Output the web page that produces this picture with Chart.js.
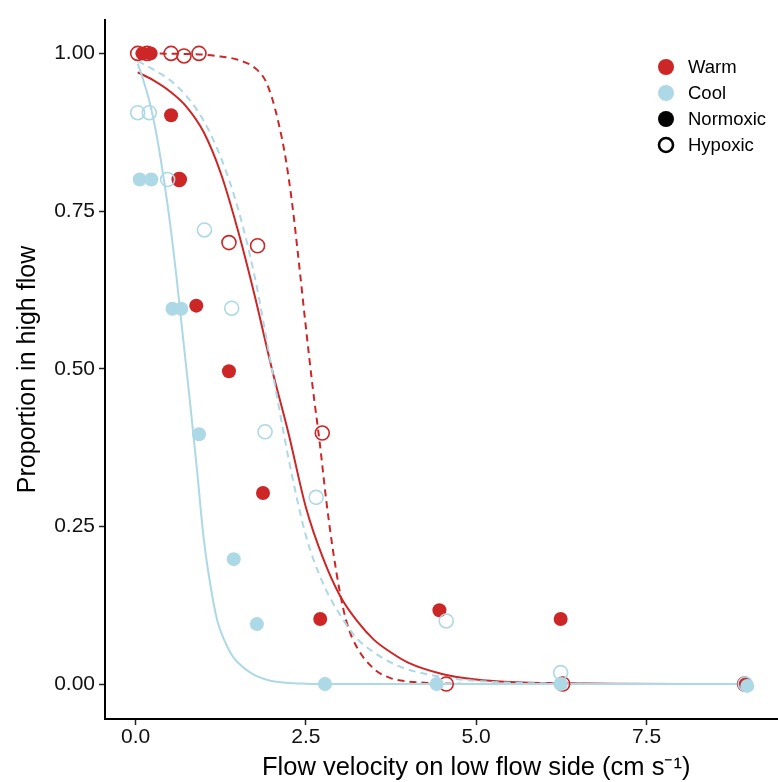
<!DOCTYPE html>
<html><head><meta charset="utf-8">
<script src="https://cdn.jsdelivr.net/npm/chart.js@4"></script>
<style>html,body{margin:0;padding:0;background:#fff;overflow:hidden}canvas{display:block}</style>
</head><body>
<canvas id="c" width="856" height="782"></canvas>
<script>
// ---- tick labels ----
const xTicks = [0, 2.5, 5, 7.5];
const xTickLabels = ['0.0', '2.5', '5.0', '7.5'];
const yTicks = [0, 0.25, 0.5, 0.75, 1];
const yTickLabels = ['0.00', '0.25', '0.50', '0.75', '1.00'];
const legendLabels = ['Warm', 'Cool', 'Normoxic', 'Hypoxic'];
const xTitle = 'Flow velocity on low flow side (cm s\u207B\u00B9)';
const yTitle = 'Proportion in high flow';

// ---- observed points ----
const warmNormoxicX = [0.10, 0.22, 0.52, 0.64, 0.89, 1.37, 1.87, 2.71, 4.46, 6.24, 8.94];
const warmNormoxicY = [1.0, 1.0, 0.902, 0.80, 0.60, 0.496, 0.303, 0.103, 0.117, 0.103, 0.0];
const warmHypoxicX = [0.03, 0.17, 0.52, 0.71, 0.93, 0.64, 1.37, 1.79, 2.74, 4.56, 6.27, 8.94];
const warmHypoxicY = [1.0, 1.0, 1.0, 0.996, 1.0, 0.80, 0.70, 0.695, 0.398, 0.0, 0.0, 0.0];
const coolNormoxicX = [0.06, 0.23, 0.54, 0.67, 0.93, 1.44, 1.78, 2.78, 4.42, 6.24, 8.98];
const coolNormoxicY = [0.80, 0.80, 0.595, 0.595, 0.396, 0.198, 0.095, 0.0, 0.0, 0.0, -0.003];
const coolHypoxicX = [0.03, 0.20, 0.47, 1.01, 1.41, 1.90, 2.65, 4.56, 6.24, 8.95];
const coolHypoxicY = [0.906, 0.906, 0.80, 0.72, 0.596, 0.40, 0.296, 0.10, 0.018, 0.0];

// ---- fitted curves ----
const coolNormoxicFitX = [0.03, 0.1, 0.2, 0.3, 0.4, 0.5, 0.6, 0.7, 0.8, 0.9, 1.0, 1.1, 1.2, 1.3, 1.4, 1.5, 1.7, 1.95, 2.2, 2.5, 3.0, 4.0, 5.0, 6.0, 7.0, 8.0, 9.0];
const coolNormoxicFitY = [0.984, 0.962, 0.925, 0.875, 0.81, 0.735, 0.645, 0.545, 0.445, 0.34, 0.23, 0.155, 0.10, 0.07, 0.048, 0.034, 0.017, 0.006, 0.002, 0.0005, 0, 0, 0, 0, 0, 0, 0];
const warmNormoxicFitX = [0.03, 0.25, 0.5, 0.75, 1.0, 1.25, 1.5, 1.75, 2.0, 2.25, 2.5, 2.75, 3.0, 3.25, 3.5, 3.75, 4.0, 4.5, 5.0, 5.5, 6.0, 7.0, 8.0, 9.0];
const warmNormoxicFitY = [0.97, 0.958, 0.94, 0.915, 0.875, 0.81, 0.72, 0.615, 0.50, 0.395, 0.28, 0.2, 0.14, 0.10, 0.07, 0.05, 0.034, 0.016, 0.007, 0.003, 0.0015, 0.0003, 0, 0];
const coolHypoxicFitX = [0.03, 0.25, 0.5, 0.75, 1.0, 1.25, 1.5, 1.75, 2.0, 2.25, 2.5, 2.75, 3.0, 3.25, 3.5, 3.75, 4.0, 4.5, 5.0, 5.5, 6.0, 7.0, 8.0, 9.0];
const coolHypoxicFitY = [0.988, 0.975, 0.958, 0.932, 0.893, 0.835, 0.755, 0.645, 0.50, 0.355, 0.235, 0.16, 0.11, 0.072, 0.05, 0.034, 0.023, 0.011, 0.005, 0.002, 0.001, 0, 0, 0];
const warmHypoxicFitX = [0.0, 0.5, 1.0, 1.25, 1.5, 1.75, 1.9, 2.0, 2.1, 2.2, 2.3, 2.4, 2.5, 2.6, 2.7, 2.8, 2.9, 3.0, 3.1, 3.25, 3.5, 3.75, 4.0, 4.5, 5.0, 6.0, 7.0, 8.0, 9.0];
const warmHypoxicFitY = [1.0, 0.9995, 0.998, 0.995, 0.99, 0.977, 0.958, 0.93, 0.889, 0.835, 0.76, 0.665, 0.565, 0.47, 0.385, 0.29, 0.21, 0.145, 0.097, 0.058, 0.024, 0.009, 0.004, 0.001, 0, 0, 0, 0, 0];

const WARM = '#CD2626';
const COOL = '#ADD8E6';
const FONT = "'Liberation Sans', Arial, Helvetica, sans-serif";

const pts = (xs, ys) => xs.map((x, i) => ({x: x, y: ys[i]}));

function pointSet(xs, ys, color, filled, order) {
  return {
    type: 'scatter', data: pts(xs, ys), order: order,
    pointRadius: 7, pointHoverRadius: 7,
    pointBackgroundColor: filled ? color : 'rgba(255,255,255,0)',
    pointBorderColor: color, pointBorderWidth: filled ? 0 : 1.6,
    showLine: false
  };
}
function lineSet(xs, ys, color, dashed, order) {
  return {
    type: 'scatter', data: pts(xs, ys), order: order,
    showLine: true, pointRadius: 0, pointHoverRadius: 0,
    borderColor: color, borderWidth: 2, borderDash: dashed ? [7, 5] : [],
    cubicInterpolationMode: 'monotone', fill: false
  };
}

const legendPlugin = {
  id: 'customLegend',
  afterDraw(chart) {
    const ctx = chart.ctx;
    const styles = [
      {fill: WARM, stroke: null},
      {fill: COOL, stroke: null},
      {fill: '#000', stroke: null},
      {fill: null, stroke: '#000'}
    ];
    ctx.save();
    ctx.font = '18.5px ' + FONT;
    ctx.textBaseline = 'middle';
    ctx.textAlign = 'left';
    legendLabels.forEach((lab, i) => {
      const cx = 666, cy = 67 + 26 * i;
      ctx.beginPath();
      const s = styles[i];
      if (s.fill) {
        ctx.arc(cx, cy, 8, 0, Math.PI * 2);
        ctx.fillStyle = s.fill; ctx.fill();
      } else {
        ctx.arc(cx, cy, 7, 0, Math.PI * 2);
        ctx.lineWidth = 2.6; ctx.strokeStyle = s.stroke; ctx.stroke();
      }
      ctx.fillStyle = '#000';
      ctx.fillText(lab, 688, cy + 1);
    });
    ctx.restore();
  }
};

new Chart(document.getElementById('c'), {
  type: 'scatter',
  data: {
    datasets: [
      pointSet(coolNormoxicX, coolNormoxicY, COOL, true, 1),
      pointSet(coolHypoxicX, coolHypoxicY, COOL, false, 2),
      pointSet(warmNormoxicX, warmNormoxicY, WARM, true, 3),
      pointSet(warmHypoxicX, warmHypoxicY, WARM, false, 4),
      lineSet(coolNormoxicFitX, coolNormoxicFitY, COOL, false, 5),
      lineSet(coolHypoxicFitX, coolHypoxicFitY, COOL, true, 6),
      lineSet(warmNormoxicFitX, warmNormoxicFitY, WARM, false, 7),
      lineSet(warmHypoxicFitX, warmHypoxicFitY, WARM, true, 8)
    ]
  },
  options: {
    responsive: false, animation: false, devicePixelRatio: 1,
    layout: {padding: {top: 20, right: 3, bottom: 0, left: 0}},
    plugins: {legend: {display: false}, tooltip: {enabled: false}},
    scales: {
      x: {
        type: 'linear', min: -0.45, max: 10.45,
        afterBuildTicks: s => { s.ticks = xTicks.map(v => ({value: v})); },
        afterFit: s => { s.height = 63; },
        ticks: {
          autoSkip: false, maxRotation: 0, padding: 0, color: '#111',
          font: {family: FONT, size: 21},
          callback: v => { const i = xTicks.indexOf(v); return i >= 0 ? xTickLabels[i] : ''; }
        },
        grid: {display: true, drawOnChartArea: false, drawTicks: true, tickLength: 6, tickColor: '#222', tickWidth: 1.5},
        border: {display: true, color: '#000', width: 2},
        title: {display: true, text: xTitle, color: '#000', font: {family: FONT, size: 25.5, lineHeight: 1.1}, padding: {top: 0, bottom: 0}}
      },
      y: {
        type: 'linear', min: -0.0555, max: 1.053,
        afterBuildTicks: s => { s.ticks = yTicks.map(v => ({value: v})); },
        afterFit: s => { s.width = 105; },
        ticks: {
          autoSkip: false, padding: 4, color: '#111',
          font: {family: FONT, size: 21},
          callback: v => { const i = yTicks.indexOf(v); return i >= 0 ? yTickLabels[i] : ''; }
        },
        grid: {display: true, drawOnChartArea: false, drawTicks: true, tickLength: 6, tickColor: '#222', tickWidth: 1.5},
        border: {display: true, color: '#000', width: 2},
        title: {display: true, text: yTitle, color: '#000', font: {family: FONT, size: 25, lineHeight: 1.1}, padding: {top: 14, bottom: 0}}
      }
    }
  },
  plugins: [legendPlugin]
});
</script>
</body></html>
